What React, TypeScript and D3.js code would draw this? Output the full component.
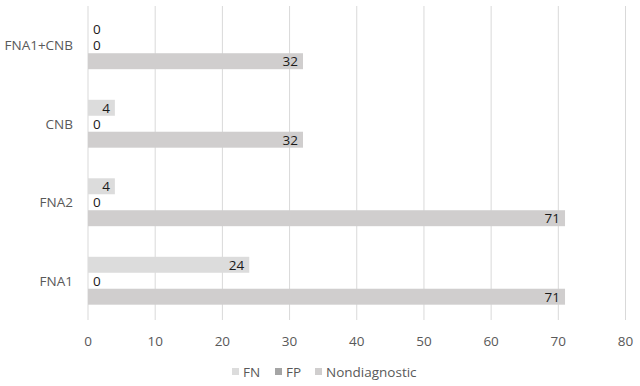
import { useEffect, useRef } from "react";
import * as d3 from "d3";

const categories = ["FNA1+CNB", "CNB", "FNA2", "FNA1"];
const seriesNames = ["FN", "FP", "Nondiagnostic"];
const fnValues = [0, 4, 4, 24];
const fpValues = [0, 0, 0, 0];
const nondiagValues = [32, 32, 71, 71];
const xTicks = [0, 10, 20, 30, 40, 50, 60, 70, 80];

const colors = ["#dcdcdc", "#a5a5a5", "#d0cece"];

export default function App() {
  const ref = useRef<SVGSVGElement | null>(null);

  useEffect(() => {
    const width = 640;
    const height = 386;
    const margin = { top: 6, right: 15, bottom: 66, left: 88 };
    const font = "'Open Sans', 'Noto Sans', sans-serif";
    const fs = 13.5;

    const svg = d3.select(ref.current).attr("width", width).attr("height", height).style("font-family", font);
    svg.selectAll("*").remove();

    const x = d3.scaleLinear().domain([0, 80]).range([88, 625.5]);
    const y = d3
      .scaleBand()
      .domain(categories)
      .range([margin.top, height - margin.bottom])
      .paddingInner(0.39)
      .paddingOuter(0.195);
    const sub = d3.scaleBand().domain(seriesNames).range([0, y.bandwidth()]);

    // gridlines
    svg
      .append("g")
      .selectAll("line")
      .data(xTicks)
      .enter()
      .append("line")
      .attr("x1", (d) => x(d))
      .attr("x2", (d) => x(d))
      .attr("y1", margin.top)
      .attr("y2", height - margin.bottom)
      .attr("stroke", "#d9d9d9")
      .attr("stroke-width", 1);

    // tick labels
    svg
      .append("g")
      .selectAll("text")
      .data(xTicks)
      .enter()
      .append("text")
      .attr("x", (d) => x(d))
      .attr("y", 346)
      .attr("text-anchor", "middle")
      .attr("font-size", fs)
      .attr("fill", "#595959")
      .text((d) => d);

    // category labels
    svg
      .append("g")
      .selectAll("text")
      .data(categories)
      .enter()
      .append("text")
      .attr("x", 73)
      .attr("y", (d) => y(d)! + y.bandwidth() / 2 + 5)
      .attr("text-anchor", "end")
      .attr("font-size", fs)
      .attr("fill", "#595959")
      .text((d) => d);

    const seriesData = [fnValues, fpValues, nondiagValues];
    seriesNames.forEach((name, si) => {
      const vals = seriesData[si];
      const g = svg.append("g");
      g.selectAll("rect")
        .data(vals)
        .enter()
        .append("rect")
        .attr("x", x(0))
        .attr("y", (_, i) => y(categories[i])! + sub(name)!)
        .attr("width", (d) => x(d) - x(0))
        .attr("height", sub.bandwidth())
        .attr("fill", colors[si]);
      g.selectAll("text")
        .data(vals)
        .enter()
        .append("text")
        .attr("x", (d) => (d === 0 ? x(0) + 5 : x(d) - 5))
        .attr("y", (_, i) => y(categories[i])! + sub(name)! + sub.bandwidth() / 2 + 5)
        .attr("text-anchor", (d) => (d === 0 ? "start" : "end"))
        .attr("font-size", fs)
        .attr("fill", "#1a1a1a")
        .text((d) => d);
    });

    // legend
    const legendX = [232, 275, 315];
    const legend = svg.append("g");
    seriesNames.forEach((name, i) => {
      legend
        .append("rect")
        .attr("x", legendX[i])
        .attr("y", 368)
        .attr("width", 7)
        .attr("height", 7)
        .attr("fill", colors[i]);
      legend
        .append("text")
        .attr("x", legendX[i] + 11)
        .attr("y", 377)
        .attr("font-size", fs)
        .attr("fill", "#595959")
        .text(name);
    });
  }, []);

  return (
    <div style={{ position: "absolute", left: 0, top: 0 }}>
      <svg ref={ref} style={{ display: "block" }} />
    </div>
  );
}
